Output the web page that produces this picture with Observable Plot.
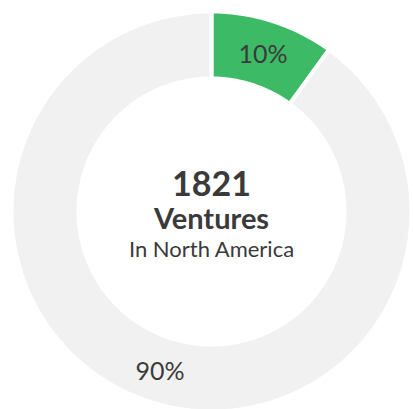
<!DOCTYPE html>
<html>
<head>
<meta charset="utf-8">
<script src="https://cdn.jsdelivr.net/npm/d3@7"></script>
<script src="https://cdn.jsdelivr.net/npm/@observablehq/plot@0.6"></script>
<style>
  html, body { margin: 0; padding: 0; background: #fff; }
  #chart svg { display: block; font-family: Lato, sans-serif; }
</style>
</head>
<body>
<div id="chart"></div>
<script>
const segments = ["North America", "Rest"];
const shares = [10, 90];
const shareLabels = ["10%", "90%"];
const segmentColors = ["#3dba66", "#f1f1f1"];
const centerNumber = ["1821"];
const centerTitle = ["Ventures"];
const centerSubtitle = ["In North America"];

const W = 413, H = 409;
const cx = 211, cy = 211;
const outerR = 200, innerR = 133;

const pie = d3.pie().sort(null).value(d => d.value);
const arcs = pie(segments.map((s, i) => ({ segment: s, value: shares[i], label: shareLabels[i] })));

const steps = 180;
const polyPts = [];
arcs.forEach(a => {
  const n = Math.max(4, Math.round(steps * (a.endAngle - a.startAngle) / (2 * Math.PI)));
  for (let k = 0; k <= n; k++) {
    const t = a.startAngle + (a.endAngle - a.startAngle) * k / n;
    polyPts.push({ segment: a.data.segment, x: outerR * Math.sin(t), y: -outerR * Math.cos(t) });
  }
  for (let k = n; k >= 0; k--) {
    const t = a.startAngle + (a.endAngle - a.startAngle) * k / n;
    polyPts.push({ segment: a.data.segment, x: innerR * Math.sin(t), y: -innerR * Math.cos(t) });
  }
});

const labelR = (outerR + innerR) / 2;
const labelPts = arcs.map(a => {
  const t = (a.startAngle + a.endAngle) / 2;
  return { label: a.data.label, x: labelR * Math.sin(t), y: -labelR * Math.cos(t) };
});

const chart = Plot.plot({
  width: W,
  height: H,
  margin: 0,
  x: { domain: [-cx, W - cx], range: [0, W], axis: null },
  y: { domain: [-cy, H - cy], range: [0, H], axis: null },
  color: { domain: segments, range: segmentColors },
  style: { fontFamily: "Lato, sans-serif", background: "#fff" },
  marks: [
    Plot.line(polyPts, { x: "x", y: "y", z: "segment", fill: "segment", stroke: "#fff", strokeWidth: 4, curve: "linear-closed" }),
    Plot.text(labelPts, { x: "x", y: "y", text: "label", fontSize: 25, fill: "#3a3a3a", dy: 2 }),
    Plot.text(centerNumber, { x: () => 0, y: () => -26, text: d => d, fontSize: 34, fontWeight: "bold", fill: "#3a3a3a" }),
    Plot.text(centerTitle, { x: () => 0, y: () => 8, text: d => d, fontSize: 29, fontWeight: "bold", fill: "#3a3a3a" }),
    Plot.text(centerSubtitle, { x: () => 0, y: () => 38.5, text: d => d, fontSize: 22, fill: "#3a3a3a" })
  ]
});
document.getElementById("chart").appendChild(chart);
</script>
</body>
</html>
